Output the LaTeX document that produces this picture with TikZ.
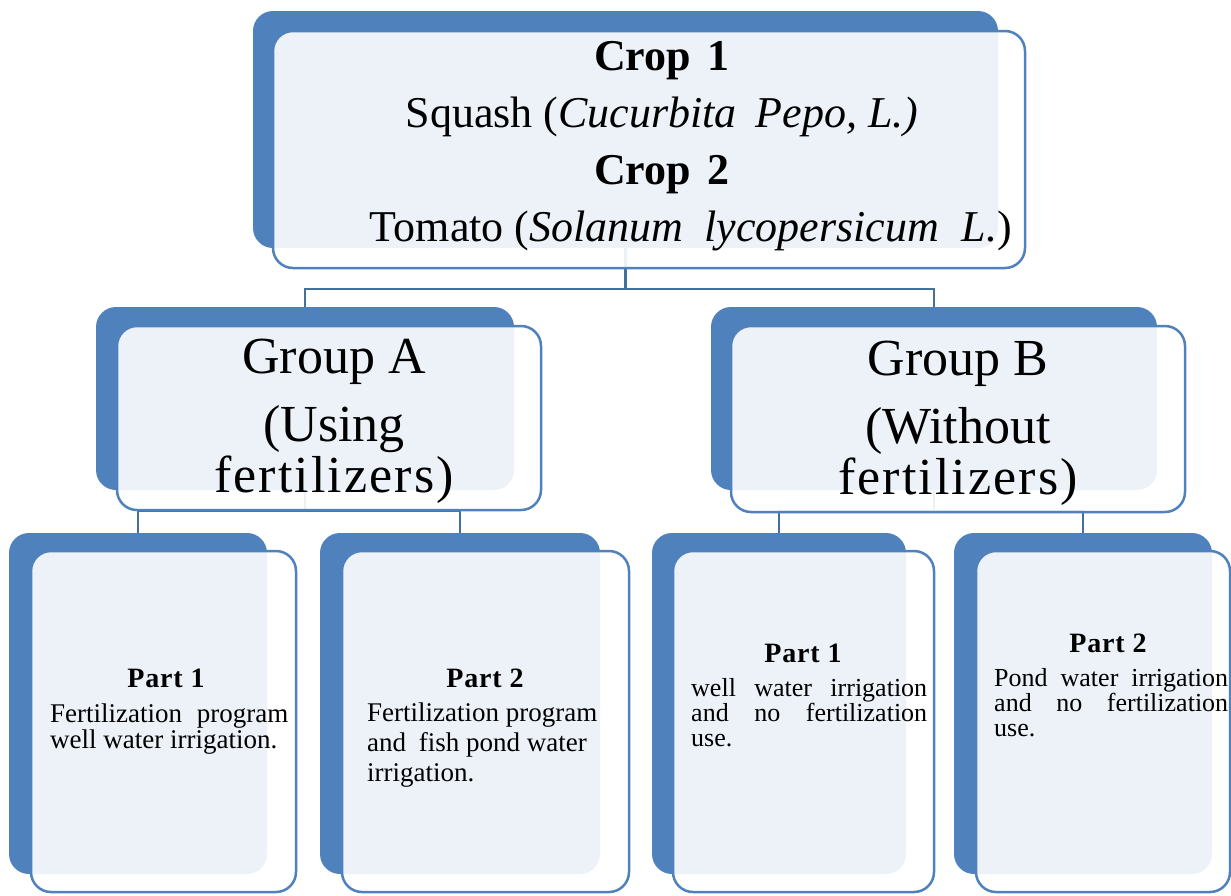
\documentclass[tikz,border=0pt]{standalone}
\usepackage{fontspec}
\setmainfont{Liberation Serif}
\usetikzlibrary{fit,backgrounds}
\definecolor{sblue}{HTML}{4F81BD}
\definecolor{cblue}{HTML}{41719C}
\begin{document}
\begin{tikzpicture}[x=1pt,y=-1pt,
  backbox/.style={fill=sblue, rounded corners=20pt, inner sep=0pt, outer sep=0pt},
  frontbox/.style={draw=sblue, line width=2.5pt, fill=white, fill opacity=0.9, rounded corners=20pt, inner sep=0pt, outer sep=0pt},
  conn/.style={draw=cblue, line width=2.5pt},
  toptext/.style={align=center, inner sep=0pt, font=\fontsize{44}{57}\selectfont},
  grouptext/.style={align=center, inner sep=0pt, font=\fontsize{52}{68}\selectfont},
  parttitle/.style={inner sep=0pt, font=\fontsize{28}{32}\selectfont\bfseries\addfontfeature{LetterSpace=3}},
  partbody/.style={align=left, inner sep=0pt, anchor=north west}]
\useasboundingbox (0,0) rectangle (1231,895);
% back boxes
\node[backbox, fit={(253,11) (998,248)}] (tb) {};
\node[backbox, fit={(96,307) (514,490)}] (ga) {};
\node[backbox, fit={(711,307) (1157,490)}] (gb) {};
\node[backbox, fit={(9,533) (267,874)}] (pa1) {};
\node[backbox, fit={(320,533) (600,874)}] (pa2) {};
\node[backbox, fit={(652,533) (906,874)}] (pb1) {};
\node[backbox, fit={(954,533) (1212,874)}] (pb2) {};
% connectors (behind)
\begin{pgfonlayer}{background}
\draw[conn] (tb.south) -- ++(0,41) -| (ga.north);
\draw[conn] (tb.south) -- ++(0,41) -| (gb.north);
\draw[conn] (ga.south) -- ++(0,21) -| (pa1.north);
\draw[conn] (ga.south) -- ++(0,21) -| (pa2.north);
\draw[conn] (gb.south) -- ++(0,21) -| (pb1.north);
\draw[conn] (gb.south) -- ++(0,21) -| (pb2.north);
\end{pgfonlayer}
% front boxes
\node[frontbox, fit={(273,31) (1025,268)}] (tf) {};
\node[frontbox, fit={(117,326) (541,510)}] (gaf) {};
\node[frontbox, fit={(731,326) (1185,512)}] (gbf) {};
\node[frontbox, fit={(31,551) (296,892)}] (pa1f) {};
\node[frontbox, fit={(342,551) (629,892)}] (pa2f) {};
\node[frontbox, fit={(673,551) (934,892)}] (pb1f) {};
\node[frontbox, fit={(976,551) (1230,892)}] (pb2f) {};
% texts
\node[toptext] (ttext) at (662,146) {\textbf{Crop\hspace{6pt} 1}\\ Squash (\textit{Cucurbita\hspace{8pt} Pepo, L.)}\\ \textbf{Crop\hspace{6pt} 2}\\ \hspace{58pt}Tomato (\textit{Solanum\hspace{10pt} lycopersicum\hspace{12pt} L.})};
\node[grouptext] (gatext) at (334,421) {Group A\\ (Using\\[-17pt] {\addfontfeature{LetterSpace=4}fertilizers)}};
\node[grouptext] (gbtext) at (958,423) {Group B\\ (Without\\[-17pt] {\addfontfeature{LetterSpace=4}fertilizers)}};
\node[parttitle] (pa1t) at (166,678) {Part 1};
\node[parttitle] (pa2t) at (485,678) {Part 2};
\node[parttitle] (pb1t) at (803,653) {Part 1};
\node[parttitle] (pb2t) at (1108,643) {Part 2};
\node[partbody, font=\fontsize{27}{22}\selectfont] (pa1b) at (50,704) {Fertilization\hspace{8pt} program\\ well water irrigation.};
\node[partbody, font=\fontsize{27}{30}\selectfont] (pa2b) at (367,703) {Fertilization program\\ and\hspace{6pt} fish pond water\\ irrigation.};
\node[partbody, font=\fontsize{26}{25}\selectfont] (pb1b) at (691,678) {\makebox[236pt][s]{well water irrigation}\\ \makebox[236pt][s]{and no fertilization}\\ use.};
\node[partbody, font=\fontsize{26}{25}\selectfont] (pb2b) at (994,668) {\makebox[234pt][s]{Pond water irrigation}\\ \makebox[234pt][s]{and no fertilization}\\ use.};
\end{tikzpicture}
\end{document}
